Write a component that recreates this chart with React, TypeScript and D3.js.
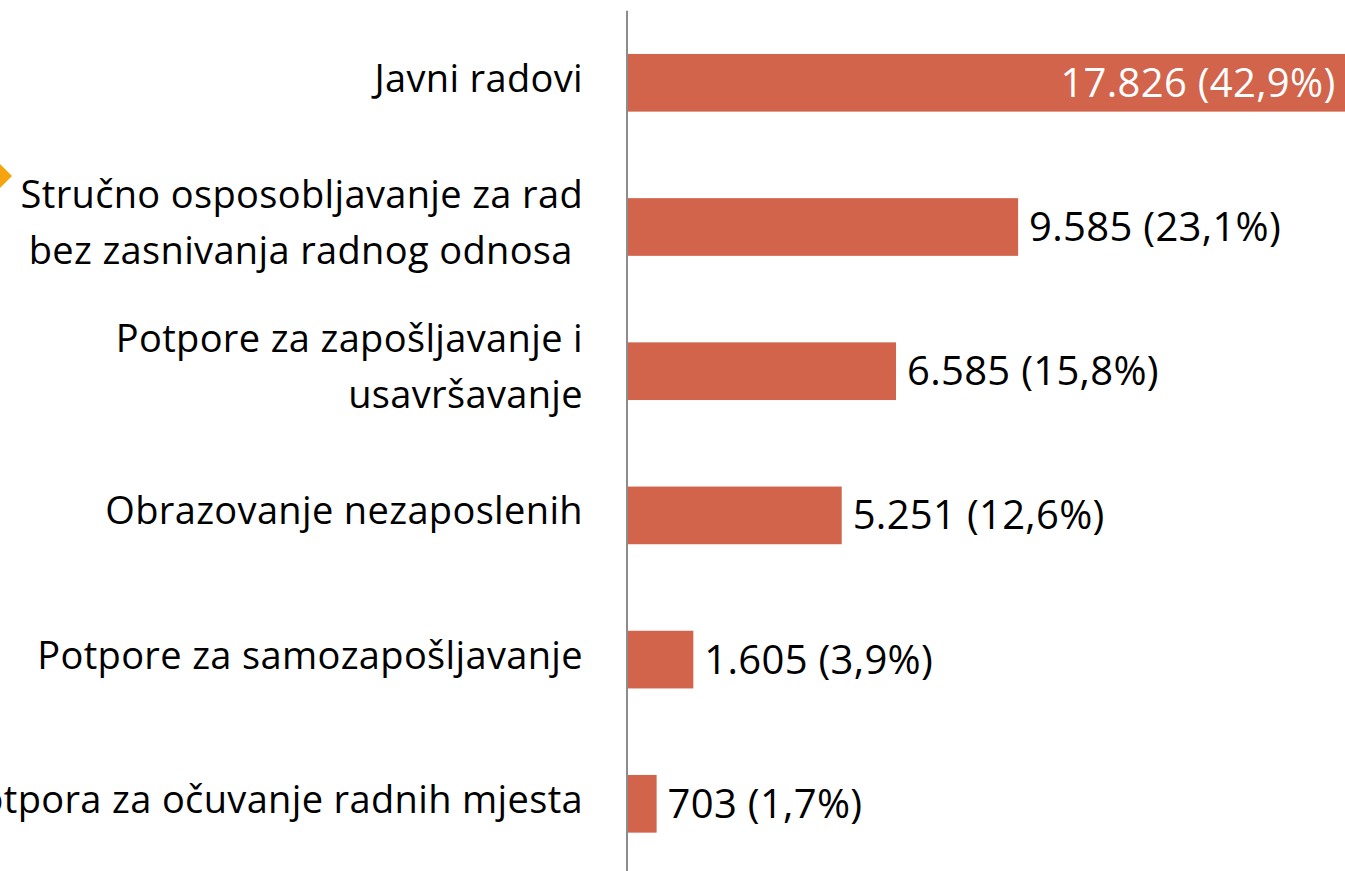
import React from "react";
import * as d3 from "d3";

const categories: string[] = [
  "Javni radovi",
  "Stručno osposobljavanje za rad\nbez zasnivanja radnog odnosa ",
  "Potpore za zapošljavanje i\nusavršavanje",
  "Obrazovanje nezaposlenih",
  "Potpore za samozapošljavanje",
  "Potpora za očuvanje radnih mjesta",
];
const values: number[] = [17826, 9585, 6585, 5251, 1605, 703];
const shares: string[] = ["42,9%", "23,1%", "15,8%", "12,6%", "3,9%", "1,7%"];

const W = 1345;
const H = 871;
const BAR = "#D1644B";
const AXIS = "#8C8C8C";
const FONT = "'Open Sans', sans-serif";

const fmt = (v: number) => d3.format(",")(v).replace(/,/g, ".");

export default function App() {
  const x = d3.scaleLinear().domain([0, 20000]).range([628, 628 + 814]);
  const y = d3
    .scaleBand<number>()
    .domain(d3.range(categories.length))
    .range([10.7, 875.9])
    .paddingInner(0.6)
    .paddingOuter(0.3);
  const bw = y.bandwidth();
  const lineH = 56;

  return (
    <svg
      width={W}
      height={H}
      style={{ position: "absolute", left: 0, top: 0, display: "block", background: "#fff" }}
    >
      <path d="M -12 176 L 0 164 L 12 176 L 0 188 Z" fill="#F5A30F" />
      <line x1={627} x2={627} y1={y.range()[0]} y2={H} stroke={AXIS} strokeWidth={2} />
      {values.map((v, i) => {
        const y0 = y(i) as number;
        const cy = y0 + bw / 2;
        const lines = categories[i].split("\n");
        const inside = i === 0;
        const label = `${fmt(v)} (${shares[i]})`;
        return (
          <g key={i}>
            <rect x={x(0)} y={y0} width={x(v) - x(0)} height={bw} fill={BAR} />
            <text
              textAnchor="end"
              fontFamily={FONT}
              fontSize={38}
              letterSpacing={0.35}
              fill="#000"
              style={{ whiteSpace: "pre" }}
            >
              {lines.map((ln, j) => (
                <tspan key={j} x={583} y={cy + 9 + (j - (lines.length - 1) / 2) * lineH}>
                  {ln}
                </tspan>
              ))}
            </text>
            <text
              x={inside ? x(v) - 18 : x(v) + 11}
              y={cy + 14}
              textAnchor={inside ? "end" : "start"}
              fontFamily={FONT}
              fontSize={40}
              letterSpacing={0.3}
              fill={inside ? "#fff" : "#000"}
            >
              {label}
            </text>
          </g>
        );
      })}
    </svg>
  );
}
